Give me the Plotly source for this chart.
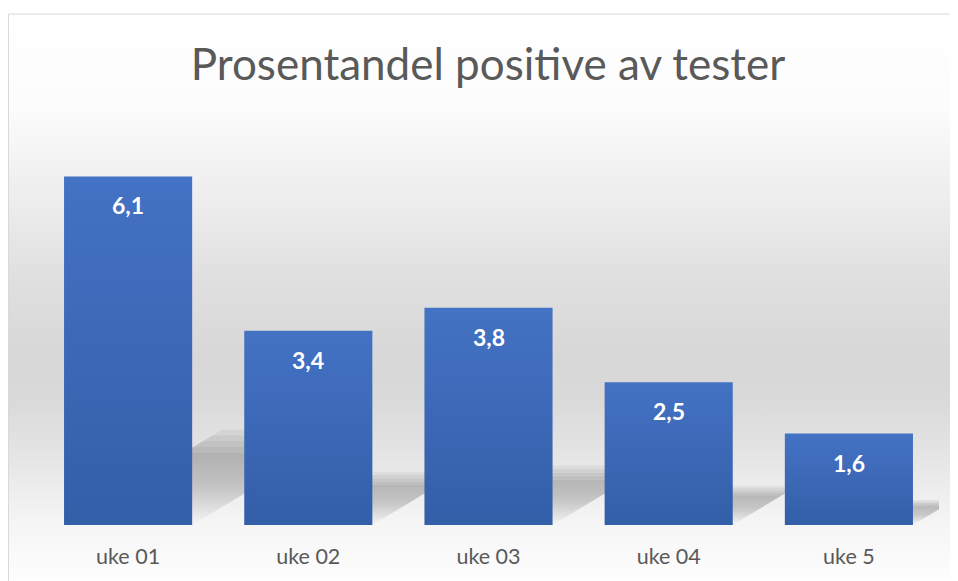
import base64
import plotly.graph_objects as go

weeks = ["uke 01", "uke 02", "uke 03", "uke 04", "uke 5"]
positive_pct = [6.1, 3.4, 3.8, 2.5, 1.6]

# the html page puts the figure 8px in from the corner, so keep it 8px smaller
W, H = 950, 573
ML, MR, MT, MB = 30, 19, 117, 54
PW, PH = W - ML - MR, H - MT - MB
BAR_W = 0.711
Y_MAX = 7


def px2x(px):
    # figure pixel -> paper coordinate (paper = plot area)
    return (px - ML) / PW


def px2y(py):
    return (H - MB - py) / PH


# chart-area background gradient, drawn as an svg image under everything
stops = [(0, "#ffffff"), (0.17, "#fcfcfc"), (0.26, "#f3f3f3"), (0.35, "#ebebeb"),
         (0.46, "#e0e0e0"), (0.60, "#d8d8d8"), (0.68, "#d9d9d9"), (0.76, "#e2e2e2"),
         (0.85, "#eeeeee"), (0.90, "#f5f5f5"), (1.0, "#fdfdfd")]
svg = ("<svg xmlns='http://www.w3.org/2000/svg' width='950' height='568' "
       "viewBox='0 0 950 568' preserveAspectRatio='none'><defs>"
       "<linearGradient id='g' x1='0' y1='0' x2='0' y2='1'>"
       + "".join("<stop offset='%s' stop-color='%s'/>" % s for s in stops)
       + "</linearGradient></defs><rect width='950' height='568' fill='url(#g)'/></svg>")
bg_src = "data:image/svg+xml;base64," + base64.b64encode(svg.encode()).decode()

fig = go.Figure()

# perspective shadows behind the bars (several soft layers to fake the blur)
for i, v in enumerate(positive_pct):
    for k in (0.86, 0.93, 1.0, 1.07, 1.14):
        x0, x1 = i - BAR_W / 2, i + BAR_W / 2
        dx = 0.126 * v * k
        sh = 0.24 * v * k
        fig.add_trace(go.Scatter(
            x=[x0, x1, x1 + dx, x0 + dx, x0], y=[0, 0, sh, sh, 0],
            fill="toself", mode="lines", line=dict(width=0),
            fillgradient=dict(type="vertical",
                              colorscale=[[0, "rgba(0,0,0,0.0)"], [0.5, "rgba(0,0,0,0.04)"],
                                          [1, "rgba(0,0,0,0.055)"]]),
            hoverinfo="skip", showlegend=False))

# bars with vertical gradient
for i, v in enumerate(positive_pct):
    x0, x1 = i - BAR_W / 2, i + BAR_W / 2
    fig.add_trace(go.Scatter(
        x=[x0, x1, x1, x0, x0], y=[0, 0, v, v, 0],
        fill="toself", mode="lines", line=dict(width=0),
        fillgradient=dict(type="vertical", colorscale=[[0, "#335ea8"], [1, "#4472c4"]]),
        name=weeks[i], hoverinfo="text", text="%s: %s" % (weeks[i], str(v).replace(".", ",")),
        showlegend=False))

for i, v in enumerate(positive_pct):
    fig.add_annotation(x=i, y=v, text="<b>%s</b>" % str(v).replace(".", ","),
                       showarrow=False, yanchor="middle", yshift=-29,
                       font=dict(family="Lato", size=23, color="white"))

fig.add_layout_image(dict(source=bg_src, xref="paper", yref="paper",
                          x=px2x(0), y=px2y(5), sizex=W / PW, sizey=(H - 5) / PH,
                          xanchor="left", yanchor="top", sizing="stretch", layer="below"))

fig.add_shape(type="rect", xref="paper", yref="paper",
              x0=px2x(0.5), x1=px2x(948.5), y0=px2y(5.5), y1=px2y(600),
              line=dict(color="#d9d9d9", width=1), layer="above")

fig.update_layout(
    width=W, height=H,
    margin=dict(l=ML, r=MR, t=MT, b=MB),
    paper_bgcolor="white", plot_bgcolor="rgba(0,0,0,0)",
    title=dict(text="Prosentandel positive av tester", x=480 / W, xanchor="center",
               y=1 - 57 / H, yanchor="middle",
               font=dict(family="Lato", size=44, color="#595959")),
    font=dict(family="Lato", color="#595959"),
    xaxis=dict(range=[-0.5, 4.5], tickvals=list(range(len(weeks))), ticktext=weeks,
               showgrid=False, zeroline=False, showline=False,
               ticks="outside", ticklen=12, tickcolor="rgba(0,0,0,0)",
               tickfont=dict(size=21.5, color="#595959"), fixedrange=True),
    yaxis=dict(range=[0, Y_MAX], visible=False, fixedrange=True),
)

fig.write_html("out.html")
